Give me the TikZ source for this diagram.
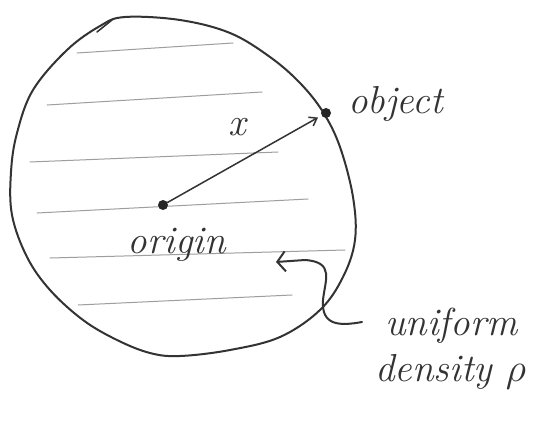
\documentclass[tikz,border=0pt]{standalone}
\usepackage{graphicx}
\usetikzlibrary{arrows.meta}
\begin{document}
\begin{tikzpicture}[x=1pt,y=-1pt,
  ink/.style={draw=black!80,line width=2pt,line cap=round,line join=round},
  hatch/.style={draw=black!38,line width=1pt,line cap=round},
  dot/.style={circle,fill=black!85,inner sep=0pt,minimum size=10pt},
  hand/.style={font=\fontsize{39}{44}\selectfont\itshape,text=black!80,inner sep=0pt}]
\useasboundingbox[fill=white] (0,0) rectangle (560,423);
% hatching
\draw[hatch] (77,53) -- (233,43);
\draw[hatch] (47,105) -- (262,92);
\draw[hatch] (30,162) -- (278,152);
\draw[hatch] (37,213) -- (308,199);
\draw[hatch] (50,258) -- (345,250);
\draw[hatch] (78,305) -- (292,295);
% sphere outline
\draw[ink] plot[smooth cycle,tension=0.6] coordinates {
  (125,17) (180,20) (230,33) (270,57) (300,83) (323,112) (340,147)
  (353,197) (355,240) (343,277) (320,310) (280,337) (230,350) (180,356)
  (150,353) (117,340) (83,320) (50,290) (27,257) (12,215) (11,172)
  (17,133) (33,90) (67,50) (100,26)};
\draw[ink,line width=1.5pt] (97,32) -- (112,20);
% points
\node[dot] (origin) at (163,205) {};
\node[dot] (object) at (326,113) {};
\draw[ink,line width=1.5pt,shorten >=4pt,-{Straight Barb[length=7pt,width=10pt]}] (origin) -- (object);
% labels
\node[hand] (xl) at (237,127) {x};
\node[hand] (ol) at (177,245) {origin};
\node[hand,anchor=west] (obl) at (348,104) {object};
\node[hand,anchor=west] (un) at (385,326) {uniform};
\node[hand,anchor=west] (de) at (375,372) {density \scalebox{1.6}{$\rho$}};
% curly pointer
\coordinate (cs) at (362,322);
\coordinate (ce) at (276,262);
\draw[ink,-{Straight Barb[length=8pt,width=20pt]}] (cs) .. controls (340,326) and (321,326) .. (323,300)
  .. controls (325,280) and (335,262) .. (305,260) -- (ce);
\end{tikzpicture}
\end{document}
